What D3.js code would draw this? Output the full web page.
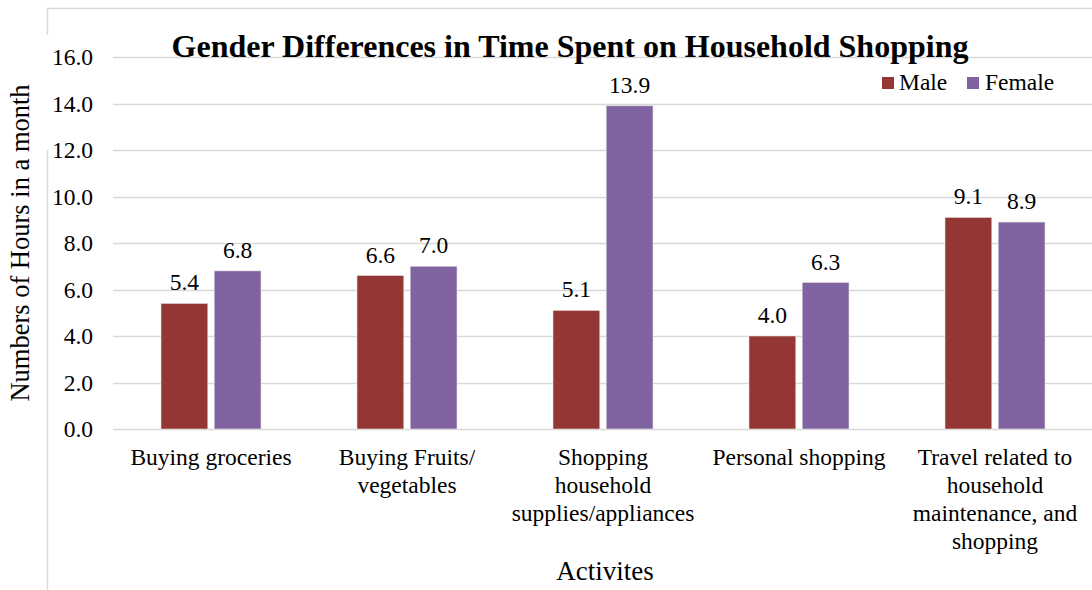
<!DOCTYPE html>
<html>
<head>
<meta charset="utf-8">
<script src="https://cdn.jsdelivr.net/npm/d3@7"></script>
<style>
  html, body { margin: 0; padding: 0; background: #fff; }
  svg { display: block; font-family: 'Liberation Serif', 'Times New Roman', serif; }
</style>
</head>
<body>
<div id="chart"></div>
<script>
const categories = [
  ['Buying groceries'],
  ['Buying Fruits/', 'vegetables'],
  ['Shopping', 'household', 'supplies/appliances'],
  ['Personal shopping'],
  ['Travel related to', 'household', 'maintenance, and', 'shopping'],
];
const seriesNames = ['Male', 'Female'];
const maleValues = [5.4, 6.6, 5.1, 4.0, 9.1];
const femaleValues = [6.8, 7.0, 13.9, 6.3, 8.9];
const yTicks = [0, 2, 4, 6, 8, 10, 12, 14, 16];

const width = 1092;
const height = 590;
const colors = { Male: '#943634', Female: '#8064A2' };

const svg = d3.select('#chart').append('svg').attr('width', width).attr('height', height);

// outer frame (partially visible)
const frame = svg.append('g').attr('stroke', '#d9d9d9').attr('stroke-width', 1.5);
frame.append('line').attr('x1', 47).attr('x2', width).attr('y1', 8.5).attr('y2', 8.5);
frame.append('line').attr('x1', 47.5).attr('x2', 47.5).attr('y1', 8).attr('y2', 35);
frame.append('line').attr('x1', 47.5).attr('x2', 47.5).attr('y1', 150).attr('y2', height);

const plotLeft = 113;
const plotRight = 1093;
const plotTop = 57;
const plotBottom = 429;

const keys = d3.range(categories.length);
const x = d3.scaleBand().domain(keys).range([plotLeft, plotRight]);
const x1 = d3.scaleBand().domain(seriesNames).range([x.bandwidth() / 2 - 50, x.bandwidth() / 2 + 50]).paddingInner(0.12);
const y = d3.scaleLinear().domain([0, 16]).range([plotBottom, plotTop]);

// gridlines
svg.append('g')
  .selectAll('line')
  .data(yTicks)
  .join('line')
  .attr('x1', plotLeft)
  .attr('x2', plotRight)
  .attr('y1', (d) => Math.round(y(d)) + 0.5)
  .attr('y2', (d) => Math.round(y(d)) + 0.5)
  .attr('stroke', '#d9d9d9')
  .attr('stroke-width', 1.5);

// y tick labels
svg.append('g')
  .selectAll('text')
  .data(yTicks)
  .join('text')
  .attr('x', 93)
  .attr('y', (d) => y(d))
  .attr('dy', '0.35em')
  .attr('text-anchor', 'end')
  .style('font-size', '23.5px')
  .text((d) => d3.format('.1f')(d));

const data = keys.map((i) => ({ i, values: [
  { key: 'Male', value: maleValues[i] },
  { key: 'Female', value: femaleValues[i] },
] }));

const groups = svg.append('g')
  .selectAll('g')
  .data(data)
  .join('g')
  .attr('transform', (d) => `translate(${x(d.i)},0)`);

groups.selectAll('rect')
  .data((d) => d.values)
  .join('rect')
  .attr('x', (d) => x1(d.key))
  .attr('width', x1.bandwidth())
  .attr('y', (d) => y(d.value))
  .attr('height', (d) => y(0) - y(d.value))
  .attr('fill', (d) => colors[d.key])
  .attr('stroke', '#e8dcdc')
  .attr('stroke-width', 0.6);

groups.selectAll('text.val')
  .data((d) => d.values)
  .join('text')
  .attr('class', 'val')
  .attr('x', (d) => x1(d.key) + x1.bandwidth() / 2)
  .attr('y', (d) => y(d.value) - 13)
  .attr('text-anchor', 'middle')
  .style('font-size', '23.5px')
  .text((d) => d3.format('.1f')(d.value));

// category labels
svg.append('g')
  .selectAll('text')
  .data(keys)
  .join('text')
  .attr('x', (d) => x(d) + x.bandwidth() / 2)
  .attr('y', 465)
  .attr('text-anchor', 'middle')
  .style('font-size', '23.5px')
  .each(function (d) {
    d3.select(this)
      .selectAll('tspan')
      .data(categories[d])
      .join('tspan')
      .attr('x', x(d) + x.bandwidth() / 2)
      .attr('dy', (t, j) => (j === 0 ? 0 : 28))
      .text((t) => t);
  });

// axis titles
svg.append('text')
  .attr('x', 605)
  .attr('y', 580)
  .attr('text-anchor', 'middle')
  .style('font-size', '27px')
  .text('Activites');

svg.append('text')
  .attr('transform', 'rotate(-90)')
  .attr('x', -243)
  .attr('y', 29)
  .attr('text-anchor', 'middle')
  .style('font-size', '26.5px')
  .text('Numbers of Hours in a month');

// title
svg.append('text')
  .attr('x', 570)
  .attr('y', 57)
  .attr('text-anchor', 'middle')
  .style('font-size', '32px')
  .style('font-weight', 'bold')
  .text('Gender Differences in Time Spent on Household Shopping');

// legend
const legendPos = [{ key: 'Male', sx: 882, tx: 899 }, { key: 'Female', sx: 967, tx: 985 }];
const legend = svg.append('g');
legend.selectAll('rect')
  .data(legendPos)
  .join('rect')
  .attr('x', (d) => d.sx)
  .attr('y', 77)
  .attr('width', 12)
  .attr('height', 12)
  .attr('fill', (d) => colors[d.key]);
legend.selectAll('text')
  .data(legendPos)
  .join('text')
  .attr('x', (d) => d.tx)
  .attr('y', 90)
  .style('font-size', '23.5px')
  .text((d) => d.key);
</script>
</body>
</html>
